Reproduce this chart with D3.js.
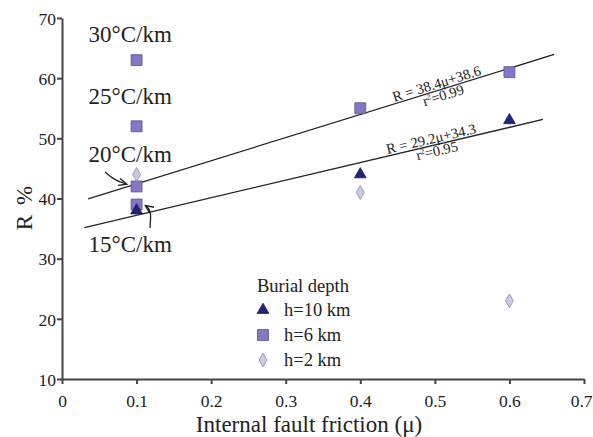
<!DOCTYPE html>
<html>
<head>
<meta charset="utf-8">
<script src="https://cdnjs.cloudflare.com/ajax/libs/d3/7.8.5/d3.min.js"></script>
<style>
body{margin:0;background:#fff;}
text{font-family:"Liberation Serif","Times New Roman",serif;fill:#222;}
</style>
</head>
<body>
<div id="chart"></div>
<script>
var width = 593;
var height = 437;

var xTicks = [0, 0.1, 0.2, 0.3, 0.4, 0.5, 0.6, 0.7];
var yTicks = [10, 20, 30, 40, 50, 60, 70];

// burial depth series: [mu, R]
var h10 = [[0.1, 38], [0.4, 44], [0.6, 53]];
var h6 = [[0.1, 63], [0.1, 52], [0.1, 42], [0.1, 39], [0.4, 55], [0.6, 61]];
var h2 = [[0.1, 44], [0.4, 41], [0.6, 23]];

// fits: slope, intercept, mu range, text
var fits = [
	{slope: 38.4, icpt: 38.6, from: 0.035, to: 0.66, eq: 'R = 38.4\u03bc+38.6', r2: '0.99', at: 0.505},
	{slope: 29.2, icpt: 34.3, from: 0.03, to: 0.645, eq: 'R = 29.2\u03bc+34.3', r2: '0.95', at: 0.497}
];

var gradients = [
	{label: '30\u00b0C/km', mu: 0.1, r: 66.0},
	{label: '25\u00b0C/km', mu: 0.1, r: 55.7},
	{label: '20\u00b0C/km', mu: 0.1, r: 46.1},
	{label: '15\u00b0C/km', mu: 0.1, r: 31.1}
];

var legendLabels = ['h=10 km', 'h=6 km', 'h=2 km'];

var x = d3.scaleLinear().domain([0, 0.7]).range([62, 584]);
var y = d3.scaleLinear().domain([10, 70]).range([379, 18]);

var svg = d3.select('#chart')
	.append('svg')
	.attr('width', width)
	.attr('height', height);

svg.append('defs').append('marker')
	.attr('id', 'arr')
	.attr('viewBox', '0 0 10 10')
	.attr('refX', 8)
	.attr('refY', 5)
	.attr('markerWidth', 7)
	.attr('markerHeight', 7)
	.attr('orient', 'auto')
	.append('path')
	.attr('d', 'M0,1 L9,5 L0,9')
	.attr('fill', 'none')
	.attr('stroke', '#222')
	.attr('stroke-width', 1.5);

// axes
var xAxis = svg.append('g')
	.attr('transform', 'translate(0,' + y(10) + ')')
	.call(d3.axisBottom(x).tickValues(xTicks).tickSize(5).tickSizeOuter(0).tickFormat(d3.format('')));
var yAxis = svg.append('g')
	.attr('transform', 'translate(' + x(0) + ',0)')
	.call(d3.axisLeft(y).tickValues(yTicks).tickSize(5).tickSizeOuter(0));

[xAxis, yAxis].forEach(function(a){
	a.select('.domain').attr('stroke', '#444').attr('stroke-width', 2);
	a.selectAll('.tick line').attr('stroke', '#444').attr('stroke-width', 2);
	a.selectAll('.tick text')
		.style('font-family', '"Liberation Serif",serif')
		.style('font-size', '17.5px')
		.attr('fill', '#333');
});
xAxis.selectAll('.tick text').attr('y', 28).attr('dy', 0);
// keep the last label inside the window
xAxis.selectAll('.tick text')
	.filter(function(d){ return d === 0.7; })
	.attr('text-anchor', 'end')
	.attr('x', 8);
yAxis.selectAll('.tick text').attr('x', -6).attr('dy', '0.36em');

svg.append('text')
	.attr('x', 309)
	.attr('y', 432)
	.attr('text-anchor', 'middle')
	.style('font-size', '23px')
	.text('Internal fault friction (\u03bc)');

svg.append('text')
	.attr('transform', 'translate(32,207) rotate(-90)')
	.attr('text-anchor', 'middle')
	.style('font-size', '23px')
	.style('letter-spacing', '2px')
	.text('R %');

// regression lines
fits.forEach(function(f){
	svg.append('line')
		.attr('x1', x(f.from))
		.attr('y1', y(f.slope * f.from + f.icpt))
		.attr('x2', x(f.to))
		.attr('y2', y(f.slope * f.to + f.icpt))
		.attr('stroke', '#222')
		.attr('stroke-width', 1.3);

	var ang = Math.atan2(y(f.slope * f.to + f.icpt) - y(f.slope * f.from + f.icpt), x(f.to) - x(f.from)) * 180 / Math.PI;
	var g = svg.append('g')
		.attr('transform', 'translate(' + x(f.at) + ',' + y(f.slope * f.at + f.icpt) + ') rotate(' + ang + ')');
	g.append('text')
		.attr('y', -2)
		.attr('text-anchor', 'middle')
		.style('font-size', '14.5px')
		.text(f.eq);
	var r2 = g.append('text')
		.attr('x', 3)
		.attr('y', 11)
		.attr('text-anchor', 'middle')
		.style('font-size', '14.5px');
	r2.append('tspan').text('r');
	r2.append('tspan').attr('dy', -5).style('font-size', '8px').text('2');
	r2.append('tspan').attr('dy', 5).text('=' + f.r2);
});

// gradient labels
gradients.forEach(function(d){
	svg.append('text')
		.attr('x', x(d.mu) - 48)
		.attr('y', y(d.r))
		.style('font-size', '23px')
		.text(d.label);
});

// curved arrows
svg.append('path')
	.attr('d', 'M105,172 C112,178 116,181 126,184')
	.attr('fill', 'none')
	.attr('stroke', '#222')
	.attr('stroke-width', 1.3)
	.attr('marker-end', 'url(#arr)');
svg.append('path')
	.attr('d', 'M150,228 C150,220 153,211 146,206')
	.attr('fill', 'none')
	.attr('stroke', '#222')
	.attr('stroke-width', 1.3)
	.attr('marker-end', 'url(#arr)');

// markers
var tri = d3.symbol().type(d3.symbolTriangle).size(60);
var sq = d3.symbol().type(d3.symbolSquare).size(120);
var dia = d3.symbol().type(d3.symbolDiamond).size(55);

var styles = [
	{data: h10, sym: tri, fill: '#232378', stroke: '#1a1a5e'},
	{data: h6, sym: sq, fill: '#8676c4', stroke: '#5a4f98'},
	{data: h2, sym: dia, fill: '#c9c8e6', stroke: '#8d8cad'}
];

// draw squares first, then triangles and diamonds on top
[1, 0, 2].forEach(function(i){
	var s = styles[i];
	svg.selectAll('.m' + i)
		.data(s.data)
		.enter()
		.append('path')
		.attr('class', 'm' + i)
		.attr('transform', function(d){ return 'translate(' + x(d[0]) + ',' + y(d[1]) + ')'; })
		.attr('d', s.sym)
		.attr('fill', s.fill)
		.attr('stroke', s.stroke)
		.attr('stroke-width', 0.8);
});

// legend
svg.append('text')
	.attr('x', 257)
	.attr('y', 292)
	.style('font-size', '18.5px')
	.text('Burial depth');

legendLabels.forEach(function(l, i){
	var s = styles[i];
	var ly = 310 + i * 25;
	svg.append('path')
		.attr('transform', 'translate(263,' + ly + ')')
		.attr('d', s.sym)
		.attr('fill', s.fill)
		.attr('stroke', s.stroke)
		.attr('stroke-width', 0.8);
	svg.append('text')
		.attr('x', 284)
		.attr('y', ly + 6)
		.style('font-size', '18.5px')
		.text(l);
});
</script>
</body>
</html>
